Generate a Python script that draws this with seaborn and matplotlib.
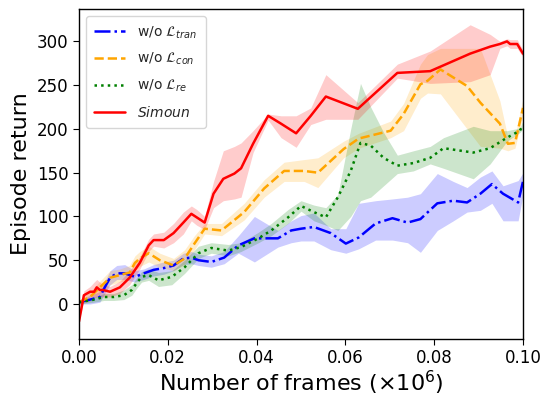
import numpy as np
import pandas as pd
import matplotlib
matplotlib.use("Agg")
import matplotlib.pyplot as plt
import seaborn as sns

# ---------------- data ----------------
red_x = [0.0000, 0.0011, 0.0025, 0.0034, 0.0040, 0.0047, 0.0054, 0.0070, 0.0092, 0.0114, 0.0137, 0.0157, 0.0168,
         0.0191, 0.0213, 0.0235, 0.0253, 0.0265, 0.0283, 0.0303, 0.0325, 0.0350, 0.0365, 0.0392, 0.0426, 0.0455,
         0.0489, 0.0522, 0.0556, 0.0628, 0.0717, 0.0791, 0.0881, 0.0926, 0.0948, 0.0964, 0.0971, 0.0987, 0.1000]
red_mean = [-20, 10, 14, 14, 19, 16, 16, 14, 19, 30, 47, 67, 73, 73, 81, 93, 103, 99, 93, 126, 143, 149, 155, 183,
            215, 206, 195, 215, 237, 223, 264, 266, 286, 294, 297, 300, 297, 297, 286]
red_low = [-20, 5, 8, 8, 8, 8, 8, 8, 12, 22, 40, 60, 66, 64, 70, 80, 95, 90, 85, 110, 118, 120, 122, 173, 210, 190,
           179, 205, 211, 211, 258, 252, 254, 262, 292, 295, 292, 292, 282]
red_up = [-20, 15, 20, 25, 28, 25, 22, 20, 26, 38, 54, 74, 80, 82, 92, 105, 112, 108, 100, 140, 175, 180, 184, 198,
          217, 215, 215, 224, 262, 230, 274, 289, 319, 308, 300, 303, 302, 302, 290]

orange_x = [0.0000, 0.0025, 0.0047, 0.0070, 0.0092, 0.0114, 0.0126, 0.0137, 0.0157, 0.0182, 0.0213, 0.0238, 0.0260,
            0.0283, 0.0321, 0.0372, 0.0417, 0.0462, 0.0507, 0.0538, 0.0596, 0.0630, 0.0702, 0.0731, 0.0769, 0.0785,
            0.0814, 0.0874, 0.0904, 0.0948, 0.0966, 0.0982, 0.1000]
orange_mean = [2, 8, 19, 30, 33, 36, 47, 52, 58, 50, 44, 52, 69, 86, 84, 105, 132, 152, 152, 150, 177, 189, 198,
               217, 251, 255, 268, 249, 230, 206, 183, 184, 224]
orange_low = [0, 3, 12, 22, 25, 28, 38, 43, 48, 42, 38, 45, 62, 80, 78, 96, 122, 140, 140, 133, 167, 178, 190, 198,
              235, 241, 240, 200, 180, 178, 175, 178, 215]
orange_up = [4, 14, 26, 38, 40, 44, 55, 60, 66, 58, 52, 62, 78, 92, 92, 115, 142, 162, 165, 167, 186, 195, 209, 229,
             274, 285, 292, 292, 292, 232, 190, 192, 235]

green_x = [0.0000, 0.0034, 0.0056, 0.0078, 0.0101, 0.0119, 0.0130, 0.0141, 0.0157, 0.0179, 0.0209, 0.0238, 0.0269,
           0.0298, 0.0336, 0.0365, 0.0404, 0.0433, 0.0471, 0.0500, 0.0529, 0.0556, 0.0583, 0.0612, 0.0634, 0.0657,
           0.0686, 0.0717, 0.0753, 0.0791, 0.0821, 0.0888, 0.0926, 0.0964, 0.0993, 0.1000]
green_mean = [2, 5, 8, 8, 10, 16, 24, 31, 33, 27, 31, 42, 58, 64, 61, 65, 75, 84, 99, 112, 105, 99, 122, 152, 184,
              181, 167, 158, 161, 167, 178, 173, 178, 190, 198, 205]
green_low = [0, 2, 4, 4, 5, 10, 18, 25, 27, 20, 22, 35, 52, 58, 55, 60, 70, 78, 92, 106, 95, 90, 84, 100, 118, 122,
             135, 149, 152, 160, 155, 143, 160, 186, 196, 200]
green_up = [4, 8, 12, 12, 16, 22, 30, 37, 40, 36, 38, 50, 66, 70, 68, 70, 82, 92, 108, 118, 113, 110, 125, 200, 252,
            225, 196, 170, 175, 180, 190, 203, 198, 198, 201, 210]

blue_x = [0.0000, 0.0025, 0.0047, 0.0058, 0.0070, 0.0085, 0.0103, 0.0126, 0.0146, 0.0168, 0.0191, 0.0213, 0.0235,
          0.0253, 0.0269, 0.0298, 0.0327, 0.0359, 0.0395, 0.0448, 0.0478, 0.0500, 0.0529, 0.0567, 0.0601, 0.0630,
          0.0668, 0.0706, 0.0740, 0.0769, 0.0807, 0.0843, 0.0874, 0.0904, 0.0930, 0.0955, 0.0989, 0.1000]
blue_mean = [2, 5, 8, 19, 30, 35, 35, 31, 35, 39, 41, 44, 52, 53, 50, 48, 53, 67, 75, 75, 84, 86, 88, 81, 69, 76,
             92, 98, 93, 97, 115, 118, 116, 126, 137, 126, 116, 140]
blue_low = [0, 0, 2, 12, 22, 28, 28, 25, 28, 32, 34, 38, 45, 46, 44, 42, 46, 58, 48, 65, 70, 72, 72, 62, 58, 63, 73,
            73, 70, 59, 84, 95, 105, 107, 115, 95, 95, 125]
blue_up = [4, 10, 14, 26, 38, 44, 45, 38, 40, 45, 48, 50, 58, 60, 57, 55, 60, 78, 100, 84, 95, 101, 104, 86, 86,
           115, 118, 120, 122, 126, 149, 140, 133, 145, 152, 135, 141, 150]

labels = [r'w/o $\mathcal{L}_{tran}$', r'w/o $\mathcal{L}_{con}$', r'w/o $\mathcal{L}_{re}$', r'$Simoun$']

# ---------------- plot ----------------
sns.set_style("ticks")
plt.rcParams['font.family'] = ['DejaVu Sans']

fig = plt.figure(figsize=(5.42, 3.96), dpi=100)
ax = fig.add_axes([79 / 542, 1 - 339 / 396, 444 / 542, 330 / 396])

series = [
    (blue_x, blue_mean, blue_low, blue_up, 'blue', '-.', labels[0]),
    (orange_x, orange_mean, orange_low, orange_up, 'orange', '--', labels[1]),
    (green_x, green_mean, green_low, green_up, 'green', ':', labels[2]),
    (red_x, red_mean, red_low, red_up, 'red', '-', labels[3]),
]

for xs, m, lo, up, c, ls, lab in series:
    df = pd.DataFrame({'x': xs, 'y': m})
    sns.lineplot(data=df, x='x', y='y', ax=ax, color=c, linestyle=ls, linewidth=1.8, label=lab)
    ax.fill_between(xs, lo, up, color=c, alpha=0.2, linewidth=0)

ax.set_xlim(0, 0.1)
ax.set_ylim(-40, 337)
ax.set_xticks([0.00, 0.02, 0.04, 0.06, 0.08, 0.10])
ax.set_xticklabels(['0.00', '0.02', '0.04', '0.06', '0.08', '0.10'])
ax.set_yticks([0, 50, 100, 150, 200, 250, 300])
ax.tick_params(labelsize=12, direction='out', length=4, colors='black')
ax.set_xlabel(r'Number of frames ($\times 10^6$)', fontsize=16, labelpad=1, color='black')
ax.set_ylabel('Episode return', fontsize=16, color='black')
for s in ax.spines.values():
    s.set_color('black')
    s.set_linewidth(1.0)

ax.legend(loc='upper left', fontsize=10, frameon=True, handlelength=2.2,
          borderpad=0.6, labelspacing=0.75, handletextpad=0.9)

fig.savefig('out.png', dpi=100)
